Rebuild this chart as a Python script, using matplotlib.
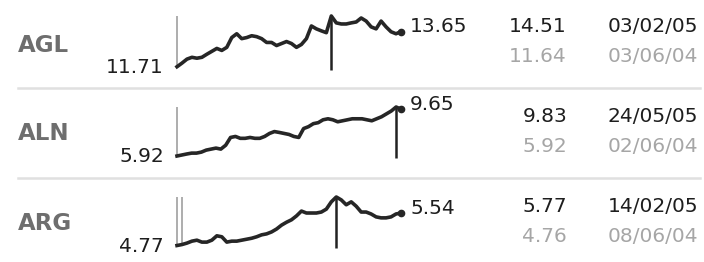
import matplotlib
matplotlib.use("Agg")
import matplotlib.pyplot as plt

# Ticker table data
tickers = ["AGL", "ALN", "ARG"]
last = ["13.65", "9.65", "5.54"]
first = ["11.71", "5.92", "4.77"]
highs = [14.51, 9.83, 5.77]
lows = [11.64, 5.92, 4.76]
high_dates = ["03/02/05", "24/05/05", "14/02/05"]
low_dates = ["03/06/04", "02/06/04", "08/06/04"]

agl = [11.71, 11.91, 12.13, 12.23, 12.18, 12.23, 12.40, 12.56, 12.72, 12.61,
       12.78, 13.32, 13.53, 13.26, 13.32, 13.42, 13.37, 13.26, 13.05, 13.05,
       12.88, 12.99, 13.10, 12.99, 12.78, 12.94, 13.26, 13.96, 13.80, 13.69,
       13.59, 14.51, 14.13, 14.07, 14.07, 14.13, 14.18, 14.40, 14.23, 13.91,
       13.80, 14.23, 13.91, 13.64, 13.53, 13.65]
aln = [5.92, 6.00, 6.08, 6.15, 6.15, 6.23, 6.39, 6.47, 6.55, 6.47,
       6.78, 7.40, 7.48, 7.33, 7.33, 7.40, 7.33, 7.33, 7.48, 7.72,
       7.87, 7.80, 7.72, 7.64, 7.48, 7.40, 8.11, 8.26, 8.50, 8.58,
       8.81, 8.89, 8.81, 8.65, 8.73, 8.81, 8.89, 8.89, 8.89, 8.81,
       8.73, 8.89, 9.05, 9.28, 9.51, 9.83, 9.65]
arg = [4.77, 4.79, 4.82, 4.86, 4.88, 4.84, 4.84, 4.88, 4.97, 4.95,
       4.84, 4.86, 4.86, 4.88, 4.90, 4.92, 4.95, 4.99, 5.01, 5.05,
       5.11, 5.19, 5.25, 5.30, 5.38, 5.48, 5.44, 5.44, 5.44, 5.46,
       5.52, 5.67, 5.77, 5.71, 5.61, 5.67, 5.58, 5.46, 5.46, 5.42,
       5.36, 5.34, 5.34, 5.36, 5.42, 5.44]
series = [agl, aln, arg]
low_idx = [[0], [0], [0, 1]]

W, H = 704, 262
fig = plt.figure(figsize=(W / 100, H / 100), dpi=100)
fig.patch.set_facecolor("white")

# background axes in pixel coordinates for text and rules
bg = fig.add_axes([0, 0, 1, 1])
bg.set_xlim(0, W)
bg.set_ylim(H, 0)
bg.axis("off")

# sparkline boxes (top, bottom) in pixels
boxes = [(16, 68), (107, 156), (197, 246)]
row_y = [26, 117, 207]
label_y = [45, 134, 223]
x0, x1 = 177, 401
fs = 14.5

for i, s in enumerate(series):
    top, bot = boxes[i]
    ax = fig.add_axes([x0 / W, 1 - bot / H, (x1 - x0) / W, (bot - top) / H])
    ax.axis("off")
    lo, hi = lows[i], highs[i]
    n = len(s)
    ax.set_xlim(0, n - 1)
    ax.set_ylim(lo, hi)
    for j in low_idx[i]:
        ax.vlines(j, lo, hi, color="#a0a0a0", lw=1.2, clip_on=False)
    imax = s.index(max(s))
    ax.vlines(imax, lo - 0.04 * (hi - lo), max(s), color="#222222", lw=1.8,
              clip_on=False)
    ax.plot(range(n), s, color="#262626", lw=2.6, clip_on=False,
            solid_joinstyle="round")
    ax.plot(n - 1, s[-1], "o", color="#262626", ms=4.5, clip_on=False)

    # pixel y of first and last points
    def py(v):
        return bot - (v - lo) / (hi - lo) * (bot - top)

    bg.text(18, label_y[i], tickers[i], ha="left", va="center", fontsize=16.5,
            fontweight="bold", color="#6e6e6e")
    bg.text(164, py(s[0]) + 1, first[i], ha="right", va="center",
            fontsize=fs, color="#1e1e1e")
    bg.text(410, py(s[-1]) - 5, last[i], ha="left", va="center",
            fontsize=fs, color="#1e1e1e")
    bg.text(567, row_y[i], f"{highs[i]:.2f}", ha="right", va="center",
            fontsize=fs, color="#1e1e1e")
    bg.text(567, row_y[i] + 30, f"{lows[i]:.2f}", ha="right", va="center",
            fontsize=fs, color="#a6a6a6")
    bg.text(698, row_y[i], high_dates[i], ha="right", va="center",
            fontsize=fs, color="#1e1e1e")
    bg.text(698, row_y[i] + 30, low_dates[i], ha="right", va="center",
            fontsize=fs, color="#a6a6a6")

for y in [88, 178]:
    bg.plot([18, 700], [y, y], color="#e0e0e0", lw=1.8)

fig.savefig("out.png", dpi=100, facecolor="white")
